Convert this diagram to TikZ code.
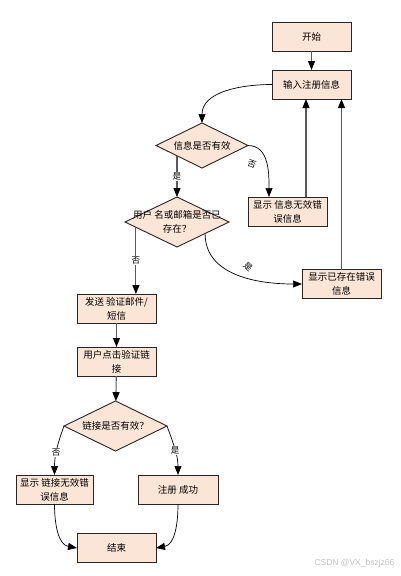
\documentclass[tikz,border=0pt]{standalone}
\usepackage{fontspec}
\setmainfont{Noto Sans CJK SC}
\newfontfamily\wmfont{Liberation Sans}
\usetikzlibrary{arrows.meta,shapes.geometric,calc}
\definecolor{boxfill}{HTML}{FBE5D6}
\definecolor{linegray}{HTML}{5A5A5A}
\begin{document}
\begin{tikzpicture}[x=1pt,y=1pt,
  font=\fontsize{9.5}{14}\selectfont,
  box/.style={draw=black!85, fill=boxfill, line width=0.9pt, minimum width=79pt, minimum height=29pt, inner sep=0pt, outer sep=0pt, align=center},
  dia/.style={draw=black!85, fill=boxfill, line width=0.9pt, diamond, inner sep=0pt, outer sep=0pt},
  tip/.style={-{Triangle[length=9pt,width=7pt,color=black]}},
  st/.style={draw=linegray, line width=1.1pt, tip},
  cv/.style={draw=black, line width=0.7pt, tip},
  lab/.style={fill=white, inner sep=0.8pt, font=\fontsize{8.5}{9}\selectfont},
  flab/.style={inner sep=0pt, font=\fontsize{8.5}{9}\selectfont}
]
\useasboundingbox (0,0) rectangle (401,-576);

\node[box] (start) at (311.5,-36.5) {开始};
\node[box] (input) at (311.5,-84.5) {输入注册信息};
\node[dia, minimum width=92pt, minimum height=45pt] (d1) at (202,-145.5) {};
\node (t1) at (d1) {信息是否有效};
\node[box] (err1) at (287.5,-211.5) {显示 信息无效错\\误信息};
\node[dia, minimum width=104pt, minimum height=50pt] (d2) at (177,-222) {};
\node[align=center] (t2) at (d2) {用户 名或邮箱是否已\\存在？};
\node[box] (err2) at (341.5,-284) {显示已存在错误\\信息};
\node[box] (send) at (116.5,-308.5) {发送 验证邮件/\\短信};
\node[box] (click) at (116.5,-361.5) {用户点击验证链\\接};
\node[dia, minimum width=103pt, minimum height=50pt] (d3) at (115.5,-426) {};
\node (t3) at (d3) {链接是否有效？};
\node[box, minimum width=77pt] (err3) at (54.5,-489.5) {显示 链接无效错\\误信息};
\node[box, minimum width=80pt] (ok) at (178,-489.5) {注册 成功};
\node[box] (end) at (116.5,-548) {结束};

\coordinate (a1) at ($(d1.west)!0.456!(d1.south)$);
\coordinate (a2) at ($(d2.west)!0.21!(d2.south)$);
\coordinate (a3) at ($(d2.east)!0.46!(d2.south)$);

\draw[st] (start) -- (input);
\draw[cv] (input.west) to[out=180,in=90] (d1.north);
\draw[cv] (d1.east) to[out=0,in=90] ([xshift=21pt]err1.north west);
\node[flab, rotate=-20] (l1) at (252,-164) {否};
\draw[st] (a1) -- node[lab] (l2) {是} (a1 |- d2.north);
\draw[st] (err1.north -| 306,0) -- (input.south -| 306,0);
\draw[st] (err2.north) -- (input.south -| err2.north);
\draw[st] (a2) -- node[lab] (l3) {否} (a2 |- send.north);
\draw[cv] (a3) to[out=-90,in=180] (err2.west);
\node[flab, rotate=-40] (l4) at (248,-267) {是};
\draw[st] (send) -- (click);
\draw[st] (click) -- (d3);
\draw[cv] (d3.west) to[out=-110,in=90] node[lab, pos=0.56] (l5) {否} (err3.north);
\draw[cv] (d3.east) to[out=-70,in=90] node[lab, pos=0.5] (l6) {是} (ok.north);
\draw[cv] (err3.south) to[out=-90,in=170] (end.west);
\draw[cv] (ok.south) to[out=-90,in=10] (end.east);

\node[anchor=east, text=black!25, font=\wmfont\fontsize{8.5}{10}\selectfont] (wm) at (398,-563) {CSDN @VX\_bszjz66};
\end{tikzpicture}
\end{document}
